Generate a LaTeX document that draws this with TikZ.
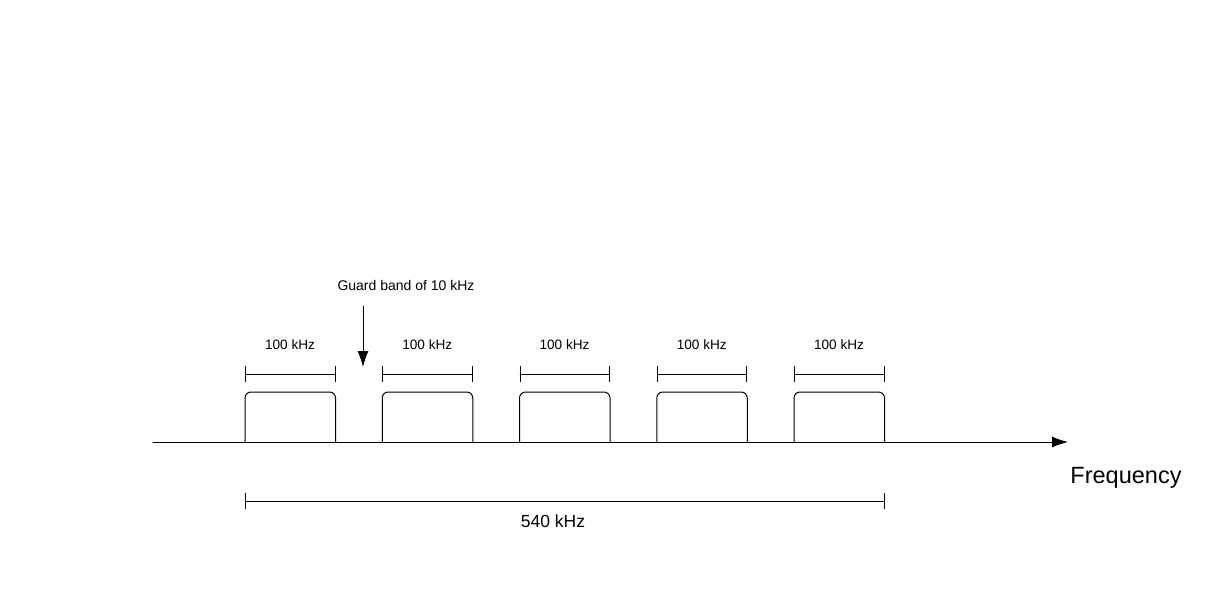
\documentclass[tikz,border=0pt]{standalone}
\usepackage{fontspec}
\setmainfont{Liberation Sans}
\usetikzlibrary{arrows.meta}

\begin{document}
\begin{tikzpicture}[x=1pt, y=-1pt, line width=1pt, line cap=round, line join=round]
  \useasboundingbox (0,0) rectangle (1221,610);

  % frequency axis
  \coordinate (axstart) at (153,442);
  \coordinate (axend) at (1068,442);
  \draw[-{Latex[length=16pt,width=11pt]}] (axstart) -- (axend);
  \node[font=\fontsize{23.5}{27}\selectfont] (freq) at (1126,478) {Frequency};

  % channels
  \foreach \i in {0,...,4}{
    \pgfmathsetmacro{\xl}{245+137.25*\i}
    \pgfmathsetmacro{\xr}{\xl+90.5}
    \draw[rounded corners=6pt] (\xl,442) -- (\xl,392) -- (\xr,392) -- (\xr,442);
    \coordinate (bl\i) at (\xl,374);
    \coordinate (br\i) at (\xr,374);
    \draw[{Bar[width=16pt,line width=0.8pt]}-{Bar[width=16pt,line width=0.8pt]}] (bl\i) -- (br\i);
    \node[font=\fontsize{13.6}{16}\selectfont] (bw\i) at (\xl+45,345) {100 kHz};
  }

  % guard band
  \node[font=\fontsize{14}{17}\selectfont] (guard) at (406,285) {Guard band of 10 kHz};
  \coordinate (gtop) at (363,306);
  \coordinate (gtip) at (363,367);
  \draw[-{Latex[length=16pt,width=11pt]}] (gtop) -- (gtip);

  % total width
  \coordinate (tl) at (245,501);
  \coordinate (tr) at (885,501);
  \draw[{Bar[width=16pt,line width=0.8pt]}-{Bar[width=16pt,line width=0.8pt]}] (tl) -- (tr);
  \node[font=\fontsize{17.5}{21}\selectfont] (total) at (553,521) {540 kHz};

\end{tikzpicture}
\end{document}
